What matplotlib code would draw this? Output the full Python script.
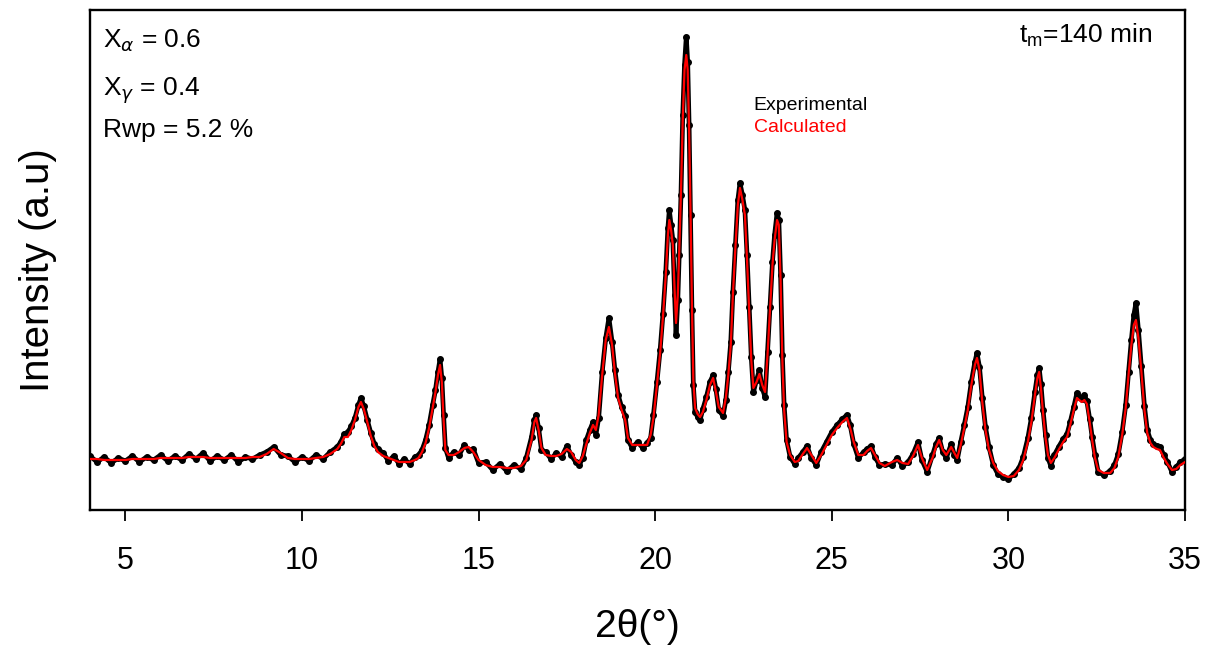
import numpy as np
import matplotlib
matplotlib.use('Agg')
import matplotlib.pyplot as plt

plt.rcParams['font.family'] = ['Liberation Sans', 'DejaVu Sans']

# 2-theta positions (deg)
two_theta = [4.0, 4.2, 4.4, 4.6, 4.8, 5.0, 5.2, 5.4, 5.6, 5.8, 6.0, 6.2, 6.4, 6.6, 6.8,
             7.0, 7.2, 7.4, 7.6, 7.8, 8.0, 8.2, 8.4, 8.6, 8.8, 9.0, 9.2, 9.4, 9.6, 9.8,
             10.0, 10.2, 10.4, 10.6, 10.8, 11.0, 11.1, 11.2, 11.3, 11.4, 11.5, 11.6, 11.67,
             11.75, 11.85, 11.95, 12.05, 12.15, 12.3, 12.45, 12.6, 12.75, 12.9, 13.05, 13.2,
             13.3, 13.4, 13.5, 13.6, 13.7, 13.78, 13.85, 13.91, 13.96, 14.01, 14.06, 14.15,
             14.3, 14.45, 14.6, 14.72, 14.85, 15.0, 15.2, 15.4, 15.6, 15.8, 16.0, 16.2,
             16.35, 16.5, 16.58, 16.63, 16.7, 16.78, 16.9, 17.05, 17.2, 17.35, 17.5, 17.62,
             17.75, 17.85, 17.95, 18.05, 18.15, 18.24, 18.32, 18.4, 18.5, 18.6, 18.69, 18.78,
             18.86, 18.95, 19.05, 19.15, 19.23, 19.35, 19.5, 19.65, 19.77, 19.87, 19.95,
             20.05, 20.14, 20.22, 20.3, 20.36, 20.4, 20.45, 20.5, 20.55, 20.59, 20.64, 20.68,
             20.73, 20.78, 20.83, 20.88, 20.92, 20.96, 21.0, 21.04, 21.08, 21.13, 21.2, 21.27,
             21.35, 21.45, 21.55, 21.64, 21.72, 21.8, 21.92, 22.0, 22.07, 22.14, 22.2, 22.27,
             22.34, 22.4, 22.47, 22.54, 22.6, 22.66, 22.72, 22.78, 22.87, 22.95, 23.03, 23.11,
             23.18, 23.25, 23.32, 23.38, 23.45, 23.5, 23.55, 23.6, 23.65, 23.72, 23.82, 23.95,
             24.05, 24.18, 24.3, 24.42, 24.56, 24.7, 24.85, 25.0, 25.15, 25.3, 25.43, 25.52,
             25.62, 25.75, 25.9, 26.0, 26.11, 26.22, 26.35, 26.5, 26.7, 26.85, 27.0, 27.16,
             27.3, 27.44, 27.55, 27.7, 27.85, 27.95, 28.04, 28.14, 28.24, 28.38, 28.47, 28.55,
             28.65, 28.75, 28.85, 28.95, 29.05, 29.11, 29.18, 29.26, 29.35, 29.45, 29.57, 29.7,
             29.85, 30.0, 30.15, 30.3, 30.42, 30.55, 30.65, 30.75, 30.82, 30.87, 30.92, 30.98,
             31.05, 31.12, 31.2, 31.3, 31.42, 31.55, 31.66, 31.75, 31.85, 31.94, 32.0, 32.08,
             32.15, 32.22, 32.3, 32.37, 32.45, 32.54, 32.7, 32.88, 33.0, 33.11, 33.22, 33.32,
             33.4, 33.48, 33.55, 33.61, 33.68, 33.76, 33.85, 33.93, 34.02, 34.1, 34.2, 34.29,
             34.4, 34.5, 34.63, 34.75, 34.87, 35.0]

# calculated (Rietveld fit) intensity, a.u.
i_calc = [51, 51, 50, 50, 50, 50, 51, 51, 51, 51, 52, 52, 52, 52, 53,
          53, 53, 52, 52, 52, 52, 52, 52, 53, 53, 56, 61, 57, 52, 51,
          51, 51, 52, 53, 56, 61, 66, 73, 73, 80, 90, 103, 108,
          101, 88, 74, 64, 58, 54, 52, 50, 48, 48, 48, 50,
          52, 58, 67, 82, 102, 118, 135, 145, 128, 90, 60, 55,
          55, 58, 62, 63, 58, 50, 45, 43, 43, 42, 42, 44,
          50, 70, 88, 92, 80, 62, 55, 54, 54, 56, 61, 58,
          50, 47, 54, 66, 77, 85, 80, 95, 135, 170, 183, 165,
          137, 112, 100, 90, 72, 65, 65, 65, 65, 75, 92,
          125, 157, 193, 235, 275, 290, 280, 265, 220, 187, 215, 258,
          318, 390, 440, 455, 440, 380, 300, 205, 130, 102, 96, 93,
          98, 110, 125, 132, 118, 103, 97, 112, 135, 165, 215, 262,
          305, 322, 310, 295, 250, 200, 150, 122, 128, 136, 125, 118,
          155, 200, 245, 270, 290, 285, 230, 150, 100, 68, 55, 48,
          49, 56, 62, 55, 47, 55, 65, 75, 82, 88, 92, 82,
          68, 55, 55, 59, 62, 55, 47, 44, 48, 50, 47, 46,
          54, 65, 52, 40, 52, 63, 70, 60, 55, 63, 57, 52,
          65, 82, 100, 125, 145, 152, 140, 108, 80, 60, 47, 39,
          35, 33, 34, 40, 50, 68, 88, 115, 132, 138, 122, 97,
          72, 55, 47, 52, 60, 68, 73, 85, 100, 112, 110, 108,
          110, 106, 88, 70, 52, 40, 37, 37, 42, 53, 75, 102,
          135, 165, 185, 190, 172, 140, 100, 77, 67, 63, 61, 60,
          52, 46, 40, 41, 45, 48]

# experimental intensity, a.u.
i_exp = [54, 48, 53, 47, 52, 49, 54, 48, 53, 50, 55, 49, 54, 50, 56,
         51, 57, 49, 54, 50, 55, 48, 53, 51, 55, 58, 63, 55, 54, 48,
         53, 49, 55, 51, 58, 63, 68, 76, 78, 84, 92, 105, 112,
         104, 90, 77, 66, 61, 57, 49, 54, 46, 51, 46, 53,
         55, 60, 70, 85, 105, 120, 138, 151, 132, 95, 62, 52,
         58, 55, 65, 60, 61, 47, 48, 40, 46, 39, 45, 41,
         52, 73, 90, 95, 82, 60, 58, 51, 57, 53, 64, 55,
         48, 45, 52, 70, 80, 88, 75, 92, 138, 172, 192, 168,
         140, 115, 103, 94, 70, 62, 68, 62, 67, 72, 95,
         128, 160, 196, 238, 282, 300, 285, 270, 215, 175, 210, 255,
         315, 395, 445, 473, 448, 385, 295, 200, 125, 98, 93, 90,
         101, 113, 128, 135, 121, 100, 94, 110, 138, 168, 218, 265,
         310, 327, 315, 300, 255, 203, 153, 118, 130, 140, 122, 113,
         158, 203, 248, 275, 297, 290, 235, 155, 105, 70, 53, 46,
         52, 58, 64, 52, 45, 58, 68, 78, 85, 91, 95, 85,
         66, 52, 58, 61, 64, 53, 45, 46, 45, 52, 44, 48,
         56, 68, 50, 38, 55, 66, 72, 58, 52, 66, 55, 50,
         68, 85, 103, 128, 148, 157, 143, 112, 83, 63, 45, 36,
         33, 31, 36, 42, 53, 72, 92, 118, 135, 142, 126, 100,
         75, 52, 44, 55, 63, 71, 76, 88, 103, 117, 113, 111,
         115, 109, 91, 73, 55, 38, 35, 39, 45, 56, 78, 105,
         138, 170, 195, 207, 180, 144, 104, 80, 70, 66, 64, 63,
         55, 48, 38, 43, 48, 51]

fig = plt.figure(figsize=(12.08, 6.5), dpi=100)
ax = fig.add_axes([0.0745, 0.2154, 0.9065, 0.7692])

ax.plot(two_theta, i_exp, color='black', lw=3.4, marker='o', ms=4, zorder=2)
ax.plot(two_theta, i_calc, color='red', lw=1.6, zorder=3)

ax.set_xlim(4, 35)
ax.set_ylim(0, 500)
ax.set_xticks(range(5, 36, 5))
ax.set_yticks([])
ax.tick_params(axis='x', direction='out', length=8, width=1.3, labelsize=22, pad=18)
for s in ax.spines.values():
    s.set_linewidth(1.7)

ax.set_xlabel('2\u03b8(\u00b0)', fontsize=28, labelpad=24)
ax.set_ylabel('Intensity (a.u)', fontsize=29)
ax.yaxis.set_label_coords(-0.03, 0.48)

# annotations
ax.text(0.012, 0.926, r'X$_{\alpha}$ = 0.6', transform=ax.transAxes, fontsize=19, va='baseline')
ax.text(0.012, 0.83, r'X$_{\gamma}$ = 0.4', transform=ax.transAxes, fontsize=19, va='baseline')
ax.text(0.012, 0.746, 'Rwp = 5.2 %', transform=ax.transAxes, fontsize=19, va='baseline')
ax.text(0.970, 0.936, r't$_\mathregular{m}$=140 min', transform=ax.transAxes, fontsize=19,
        va='baseline', ha='right')
ax.text(0.606, 0.80, 'Experimental', transform=ax.transAxes, fontsize=14, va='baseline')
ax.text(0.606, 0.756, 'Calculated', transform=ax.transAxes, fontsize=14, va='baseline',
        color='red')

fig.savefig('out.png', dpi=100)
